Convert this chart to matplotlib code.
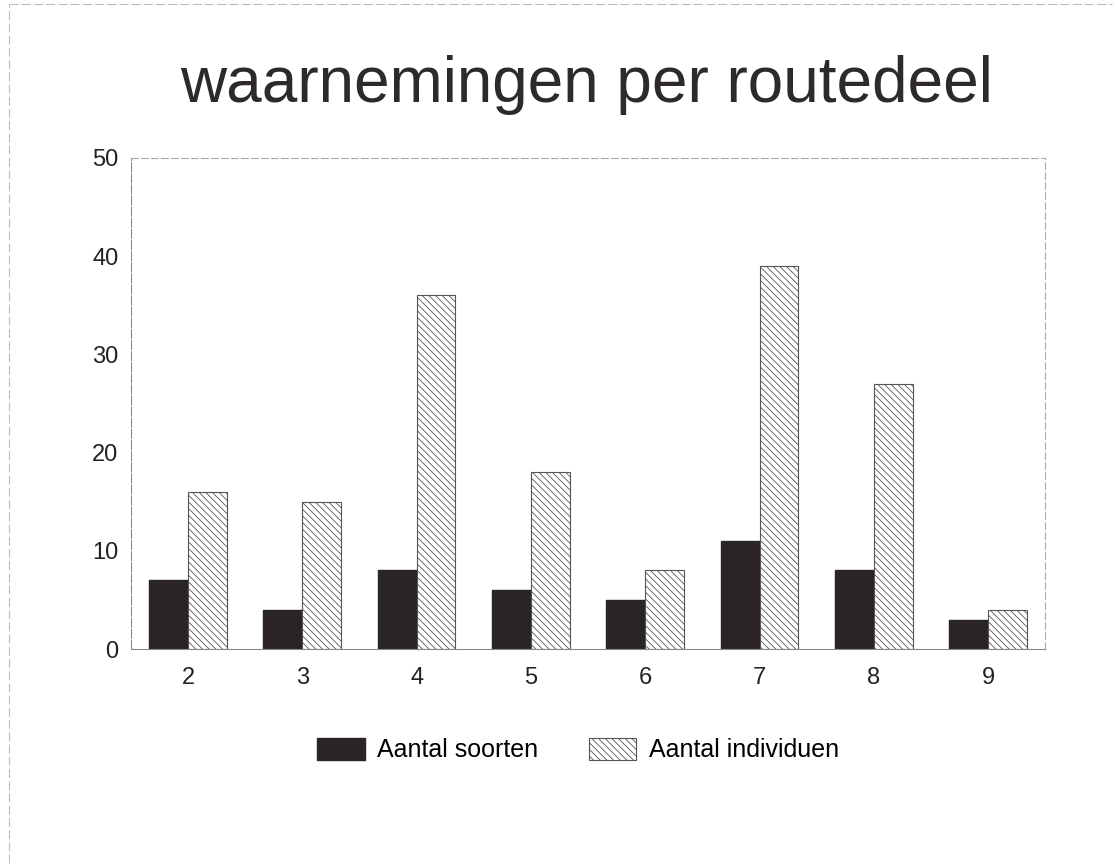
import matplotlib.pyplot as plt
from matplotlib.lines import Line2D
import numpy as np

routedelen = ['2', '3', '4', '5', '6', '7', '8', '9']
aantal_soorten = [7, 4, 8, 6, 5, 11, 8, 3]
aantal_individuen = [16, 15, 36, 18, 8, 39, 27, 4]

plt.rcParams['font.family'] = ['Liberation Sans', 'DejaVu Sans']
plt.rcParams['hatch.color'] = '#707070'
plt.rcParams['hatch.linewidth'] = 0.6

fig = plt.figure(figsize=(11.18, 8.67), dpi=100)
ax = fig.add_axes([0.117, 0.2514, 0.818, 0.5664])

x = np.arange(len(routedelen))
w = 0.34
ax.bar(x - w / 2, aantal_soorten, w, color='#2b2427', edgecolor='#2b2427',
       label='Aantal soorten')
ax.bar(x + w / 2, aantal_individuen, w, color='white', edgecolor='#555555',
       hatch='\\\\\\\\\\', linewidth=0.8, label='Aantal individuen')

ax.set_xlim(-0.5, 7.5)
ax.set_ylim(0, 50)
ax.set_yticks([0, 10, 20, 30, 40, 50])
ax.set_xticks(x)
ax.set_xticklabels(routedelen)
ax.tick_params(axis='both', length=0, labelsize=17, colors='#222222')
ax.tick_params(axis='x', pad=13)
ax.tick_params(axis='y', pad=9)

for side in ['top', 'right']:
    ax.spines[side].set_color('#aaaaaa')
    ax.spines[side].set_linestyle((0, (6, 3)))
    ax.spines[side].set_linewidth(0.8)
ax.spines['left'].set_color('#888888')
ax.spines['left'].set_linestyle((0, (8, 2)))
ax.spines['left'].set_linewidth(0.8)
ax.spines['bottom'].set_color('#888888')
ax.spines['bottom'].set_linewidth(0.8)

# faint page border of the scan
fig.add_artist(Line2D([0.008, 0.995], [0.995, 0.995], color='#bbbbbb',
                      linestyle=(0, (8, 3)), linewidth=0.8))
fig.add_artist(Line2D([0.008, 0.008], [0.005, 0.995], color='#bbbbbb',
                      linestyle=(0, (8, 3)), linewidth=0.8))

fig.text(0.525, 0.8824, 'waarnemingen per routedeel', ha='center', va='baseline',
         fontsize=46, color='#2e2a2c')

fig.legend(loc='center', bbox_to_anchor=(0.517, 0.135), ncol=2, frameon=False,
           fontsize=18, handlelength=1.9, handleheight=1.0, columnspacing=2.0,
           handletextpad=0.5)

plt.savefig('out.png', dpi=100)
